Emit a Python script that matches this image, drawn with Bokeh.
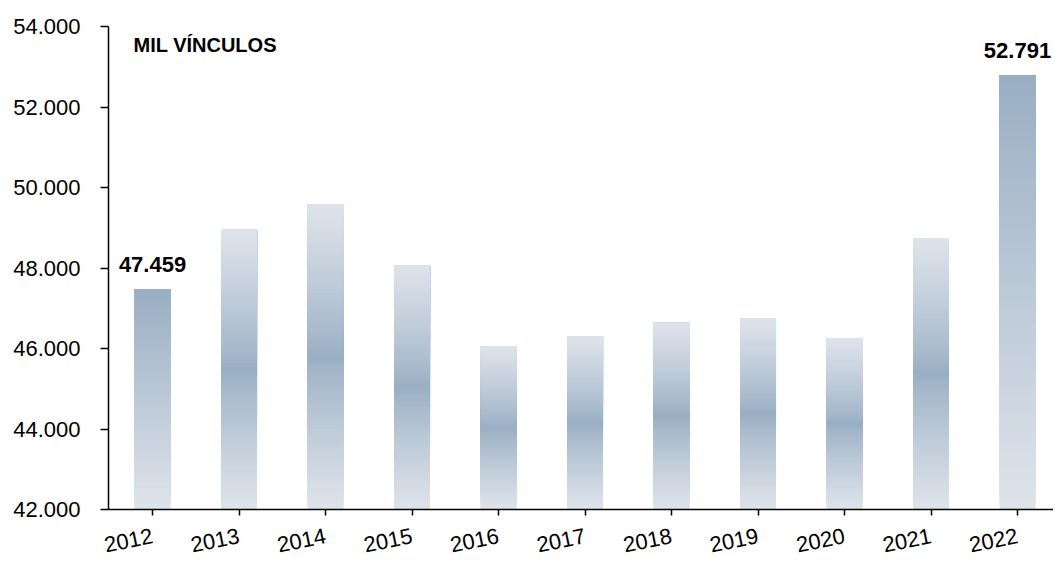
from bokeh.plotting import figure
from bokeh.models import Range1d, FixedTicker, Label
from bokeh.embed import file_html
from bokeh.resources import INLINE

years = ["2012", "2013", "2014", "2015", "2016", "2017", "2018", "2019", "2020", "2021", "2022"]
values = [47.459, 48.96, 49.58, 48.07, 46.05, 46.30, 46.64, 46.74, 46.25, 48.74, 52.791]
y_ticks = [42, 44, 46, 48, 50, 52, 54]
y_tick_labels = ["42.000", "44.000", "46.000", "48.000", "50.000", "52.000", "54.000"]
highlight = ["2012", "2022"]
title_text = "MIL VÍNCULOS"

BASE = 42.0
DARK = (0x99, 0xAE, 0xC3)
LIGHT = (0xDF, 0xE4, 0xEB)
BAR_W = 0.416
N = 90


def mix(t):
    r = [int(round(DARK[k] + (LIGHT[k] - DARK[k]) * t)) for k in range(3)]
    return "#%02x%02x%02x" % tuple(r)


p = figure(width=1053, height=562, output_backend="svg", toolbar_location=None,
           x_range=Range1d(-0.509, 10.416), y_range=Range1d(42, 54),
           min_border_left=108, min_border_right=0, min_border_top=26, min_border_bottom=50)
p.outline_line_color = None
p.xgrid.visible = False
p.ygrid.visible = False
p.background_fill_color = "white"
p.border_fill_color = "white"

lefts, rights, bottoms, tops, colors = [], [], [], [], []
for i, (yr, v) in enumerate(zip(years, values)):
    h = v - BASE
    for j in range(N):
        f = j / N
        yb = BASE + h * f
        fc = (j + 0.5) / N
        if yr in highlight:
            t = 1.0 - fc  # dark at top, light at bottom
        else:
            t = abs(fc - 0.5) * 2.0
            t = t ** 0.85
        lefts.append(i - BAR_W / 2)
        rights.append(i + BAR_W / 2)
        bottoms.append(yb)
        tops.append(v)
        colors.append(mix(t))

p.quad(left=lefts, right=rights, bottom=bottoms, top=tops, fill_color=colors, line_color=None)

# data labels
for i, (yr, v) in enumerate(zip(years, values)):
    if yr in highlight:
        lab = "%.3f" % v
        p.add_layout(Label(x=i, y=v, text=lab, text_align="center", text_baseline="alphabetic",
                           y_offset=25, text_font="Liberation Sans", text_font_style="bold",
                           text_font_size="22px", text_color="#000000"))

p.add_layout(Label(x=-0.22, y=53.53, text=title_text, text_align="left", text_baseline="alphabetic",
                   text_font="Liberation Sans", text_font_style="bold",
                   text_font_size="20px", text_color="#000000"))

p.xaxis.ticker = FixedTicker(ticks=list(range(len(years))))
p.xaxis.major_label_overrides = {i: y for i, y in enumerate(years)}
p.xaxis.major_label_orientation = 0.2
p.yaxis.ticker = FixedTicker(ticks=y_ticks)
p.yaxis.major_label_overrides = {t: l for t, l in zip(y_ticks, y_tick_labels)}

for ax in (p.xaxis[0], p.yaxis[0]):
    ax.axis_line_color = "#000000"
    ax.axis_line_width = 1.5
    ax.major_tick_line_color = "#000000"
    ax.major_tick_line_width = 1.5
    ax.major_tick_out = 8
    ax.major_tick_in = 0
    ax.minor_tick_line_color = None
    ax.major_label_text_font = "Liberation Sans"
    ax.major_label_text_font_size = "22px"
    ax.major_label_text_color = "#000000"

p.yaxis.major_label_standoff = 20
p.xaxis.major_label_standoff = 20
p.xaxis.major_tick_out = 6

open("out.html", "w").write(file_html(p, INLINE))
